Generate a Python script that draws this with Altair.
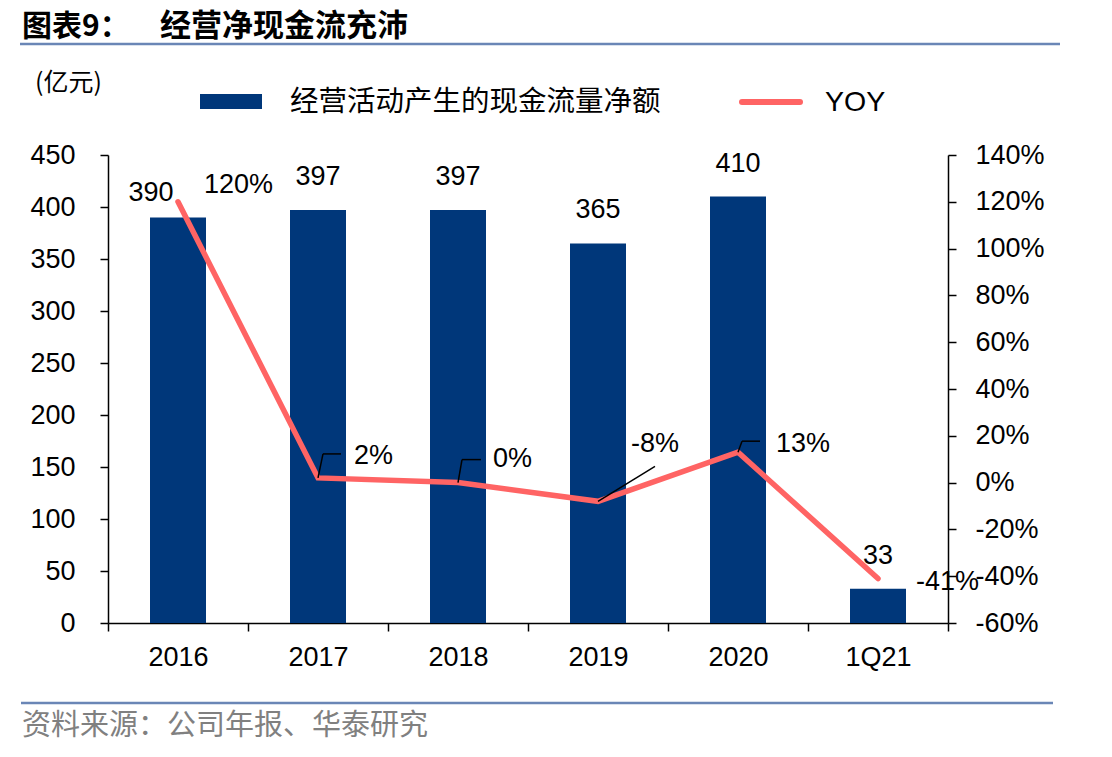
import altair as alt
import pandas as pd

# ---- data ----
categories = ["2016", "2017", "2018", "2019", "2020", "1Q21"]
cash_flow = [390, 397, 397, 365, 410, 33]
yoy = [1.20, 0.02, 0.00, -0.08, 0.13, -0.41]
yoy_labels = ["120%", "2%", "0%", "-8%", "13%", "-41%"]

df = pd.DataFrame({"cat": categories, "cf": cash_flow, "yoy": yoy, "yoy_label": yoy_labels})

W, H = 840, 468
PAD_L, PAD_T = 108, 155
FONT = "Liberation Sans"
CJK = "Noto Sans CJK SC"
BAR = "#00377A"
LINE = "#FF6464"
FS = 27

x_enc = alt.X(
    "cat:N", sort=categories,
    scale=alt.Scale(paddingInner=0, paddingOuter=0),
    axis=alt.Axis(title=None, labelAngle=0, tickBand="extent", labelFontSize=FS, labelFont=FONT,
                  labelColor="black", domainColor="black", domainWidth=1.5, tickColor="black",
                  tickWidth=1.5, tickSize=8, labelPadding=13),
)

cf_scale = alt.Scale(domain=[0, 450], nice=False, zero=True)
yoy_scale = alt.Scale(domain=[-0.6, 1.4], nice=False, zero=False)

y_left = alt.Y("cf:Q", scale=cf_scale,
               axis=alt.Axis(title=None, values=list(range(0, 451, 50)), grid=False, orient="left",
                             labelFontSize=FS, labelFont=FONT, labelColor="black", domainColor="black",
                             domainWidth=1.5, tickColor="black", tickWidth=1.5, tickSize=8, labelPadding=25))

y_right = alt.Y("yoy:Q", scale=yoy_scale,
                axis=alt.Axis(title=None, values=[-0.6, -0.4, -0.2, 0, 0.2, 0.4, 0.6, 0.8, 1.0, 1.2, 1.4],
                              labelExpr="round(datum.value*100) + '%'", grid=False, orient="right",
                              labelFontSize=FS, labelFont=FONT, labelColor="black", domainColor="black",
                              domainWidth=1.5, tickColor="black", tickWidth=1.5, tickSize=8, labelPadding=19))

base = alt.Chart(df)

bars = base.mark_bar(color=BAR, width=alt.RelativeBandSize(0.4)).encode(x=x_enc, y=y_left)
bar_labels = base.transform_filter(alt.datum.cat != "2016").mark_text(
    baseline="middle", dy=-33, fontSize=FS, font=FONT, color="black"
).encode(x=x_enc, y=y_left, text="cf:Q")
bar_label_2016 = base.transform_filter(alt.datum.cat == "2016").mark_text(
    baseline="middle", dx=-27, dy=-24, fontSize=FS, font=FONT, color="black"
).encode(x=x_enc, y=y_left, text="cf:Q")

bar_group = alt.layer(bars, bar_labels, bar_label_2016)

line = base.mark_line(color=LINE, strokeWidth=5.5, strokeCap="round").encode(x=x_enc, y=y_right)


def yoy_text(label, dx, dy):
    return base.transform_filter(alt.datum.yoy_label == label).mark_text(
        align="left", baseline="middle", dx=dx, dy=dy, fontSize=FS, font=FONT, color="black"
    ).encode(x=x_enc, y=y_right, text="yoy_label:N")


def leader_up(label, up, lean, run):
    sel = base.transform_filter(alt.datum.yoy_label == label)
    v = sel.mark_rule(color="black", strokeWidth=1.5, x2Offset=lean, y2Offset=-up).encode(
        x=x_enc, x2="cat:N", y=y_right, y2="yoy:Q")
    h = sel.mark_rule(color="black", strokeWidth=1.5, xOffset=lean, x2Offset=lean + run,
                      yOffset=-up, y2Offset=-up).encode(
        x=x_enc, x2="cat:N", y=y_right, y2="yoy:Q")
    return [v, h]


diag = base.transform_filter(alt.datum.yoy_label == "-8%").mark_rule(
    color="black", strokeWidth=1.5, x2Offset=57, y2Offset=-35
).encode(x=x_enc, x2="cat:N", y=y_right, y2="yoy:Q")

line_layers = [line]
line_layers += leader_up("2%", 24, 5, 18)
line_layers += leader_up("0%", 23, 4, 19)
line_layers += leader_up("13%", 11, 4, 18)
line_layers.append(diag)
line_layers += [
    yoy_text("120%", 26, -17),
    yoy_text("2%", 36, -22),
    yoy_text("0%", 35, -24),
    yoy_text("-8%", 33, -57),
    yoy_text("13%", 38, -8),
    yoy_text("-41%", 38, 3),
]
line_group = alt.layer(*line_layers)

# ---- decorations: title, legend, unit, source ----
deco_src = alt.Chart(pd.DataFrame({"k": [0]}))


def txt(text, x, y, size, font, weight="normal", color="black"):
    return deco_src.mark_text(align="left", baseline="middle", fontSize=size, font=font,
                              fontWeight=weight, color=color).encode(
        x=alt.value(x), y=alt.value(y), text=alt.value(text))


title_line = deco_src.mark_rule(color="#6A86B6", strokeWidth=2.5).encode(
    x=alt.value(-88), x2=alt.value(952), y=alt.value(-111), y2=alt.value(-111))
foot_line = deco_src.mark_rule(color="#6A86B6", strokeWidth=2.5).encode(
    x=alt.value(-87), x2=alt.value(945), y=alt.value(548), y2=alt.value(548))
leg_rect = deco_src.mark_rect(color=BAR).encode(
    x=alt.value(92), x2=alt.value(154), y=alt.value(-61), y2=alt.value(-46))
leg_line = deco_src.mark_rule(color=LINE, strokeWidth=6, strokeCap="round").encode(
    x=alt.value(634), x2=alt.value(692), y=alt.value(-53), y2=alt.value(-53))

deco = alt.layer(
    title_line, foot_line, leg_rect, leg_line,
    txt("图表9：", -86, -128, 30, CJK, "bold"),
    txt("经营净现金流充沛", 52, -128, 31, CJK, "bold"),
    txt("(亿元)", -73, -72, 25, CJK),
    txt("经营活动产生的现金流量净额", 182, -53, 28.5, CJK),
    txt("YOY", 717, -53, 28.5, FONT),
    txt("资料来源：公司年报、华泰研究", -86, 571, 29, CJK, color="#808080"),
)

chart = alt.layer(bar_group, line_group, deco).resolve_scale(y="independent").properties(
    width=W, height=H,
    padding={"left": PAD_L, "top": PAD_T, "right": 1112 - PAD_L - W, "bottom": 757 - PAD_T - H},
    autosize=alt.AutoSizeParams(type="none"),
    background="white",
).configure_view(strokeWidth=0)

chart.save("out.html", embed_options={"renderer": "svg", "actions": False})
